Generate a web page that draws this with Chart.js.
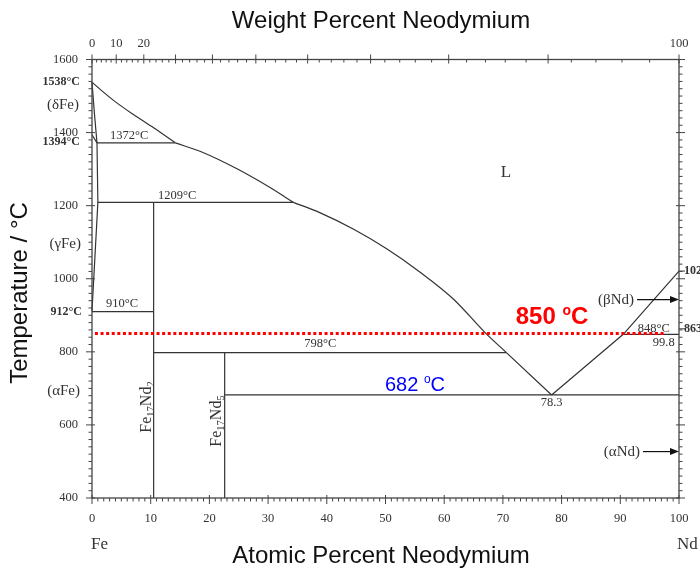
<!DOCTYPE html>
<html>
<head>
<meta charset="utf-8">
<script src="https://cdn.jsdelivr.net/npm/chart.js@4/dist/chart.umd.min.js"></script>
<style>
  html, body { margin: 0; padding: 0; background: #fff; }
  #wrap { width: 700px; height: 569px; }
</style>
</head>
<body>
<div id="wrap"><canvas id="c" width="700" height="569"></canvas></div>
<script>
// Fe–Nd phase diagram: composition in at.% Nd, temperature in °C

// Liquidus on the Fe-rich side, split at the invariant temperatures
const liquidusDelta = [[0, 1538], [2, 1510], [4, 1484], [7, 1450], [10.5, 1413], [14.2, 1372]];
const liquidusGamma = [[14.2, 1372], [19, 1345], [24.7, 1301], [30.4, 1249], [34.3, 1209]];
const liquidus2_17 = [[34.3, 1209], [38.8, 1181], [44.5, 1136], [50.2, 1082], [55.9, 1018], [61.6, 944], [67.0, 852], [70.6, 798]];
const liquidus5_17 = [[70.6, 798], [78.3, 682]];
// Liquidus on the Nd-rich side
const liquidusNd = [[78.3, 682], [90.5, 848], [100, 1021]];

// Fe solid-solution boundaries
const solidusDelta = [[0, 1538], [0.4, 1455], [0.85, 1372]];
const gammaDelta = [[0, 1394], [0.85, 1372]];
const gammaLoop = [[0.85, 1372], [1.0, 1209], [0, 912]];

// Invariant horizontals
const iso1372 = [[0.85, 1372], [14.2, 1372]];
const iso1209 = [[1.0, 1209], [34.3, 1209]];
const iso910 = [[0, 910], [10.5, 910]];
const iso798 = [[10.5, 798], [70.6, 798]];
const iso682 = [[22.6, 682], [100, 682]];
const iso848 = [[90.5, 848], [100, 848]];

// Compounds
const fe17nd2 = [[10.5, 400], [10.5, 1209]];
const fe17nd5 = [[22.6, 400], [22.6, 798]];

// Marked process temperature
const processLine = [[0.5, 850], [97.5, 850]];

// Axis ticks
const atTicks = [0, 10, 20, 30, 40, 50, 60, 70, 80, 90, 100];
const tempTicks = [400, 600, 800, 1000, 1200, 1400, 1600];
const wtLabelled = [0, 10, 20, 100];
const ndTicks = [863, 1021];
const ndTickLabels = ['863', '1021'];

const SERIF = "'Liberation Serif', 'Times New Roman', serif";
const SANS = "'Liberation Sans', Arial, sans-serif";
const INK = '#333';

// weight % Nd -> atomic % Nd
function wtToAt(w) {
  const nd = w / 144.242, fe = (100 - w) / 55.845;
  return 100 * nd / (nd + fe);
}

const pts = arr => arr.map(([x, y]) => ({ x, y }));

function phaseLine(arr, curved) {
  return {
    data: pts(arr),
    borderColor: INK,
    borderWidth: 1.2,
    pointRadius: 0,
    showLine: true,
    fill: false,
    clip: 4,
    cubicInterpolationMode: curved ? 'monotone' : 'default',
    tension: 0
  };
}

const datasets = [
  {
    data: pts(processLine),
    borderColor: '#ff0000',
    borderWidth: 3,
    borderDash: [3, 2.6],
    borderCapStyle: 'butt',
    pointRadius: 0,
    showLine: true,
    clip: 4
  },
  phaseLine(liquidusDelta, true),
  phaseLine(liquidusGamma, true),
  phaseLine(liquidus2_17, true),
  phaseLine(liquidus5_17, false),
  phaseLine(liquidusNd, false),
  phaseLine(solidusDelta, true),
  phaseLine(gammaDelta, false),
  phaseLine(gammaLoop, false),
  phaseLine(iso1372, false),
  phaseLine(iso1209, false),
  phaseLine(iso910, false),
  phaseLine(iso798, false),
  phaseLine(iso682, false),
  phaseLine(iso848, false),
  phaseLine(fe17nd2, false),
  phaseLine(fe17nd5, false)
];

// Labels placed in data coordinates
const fieldLabels = [
  { t: '1372°C', x: 6.35, y: 1392 },
  { t: '1209°C', x: 14.5, y: 1228 },
  { t: '910°C', x: 5.1, y: 931 },
  { t: '798°C', x: 38.9, y: 823 },
  { t: '78.3', x: 78.3, y: 660 },
  { t: '848°C', x: 95.7, y: 862 },
  { t: '99.8', x: 97.4, y: 825 }
];

function line(ctx, x1, y1, x2, y2) {
  ctx.beginPath(); ctx.moveTo(x1, y1); ctx.lineTo(x2, y2); ctx.stroke();
}

function arrow(ctx, x1, x2, y) {
  ctx.beginPath(); ctx.moveTo(x1, y); ctx.lineTo(x2 - 6, y); ctx.stroke();
  ctx.beginPath();
  ctx.moveTo(x2, y); ctx.lineTo(x2 - 9, y - 3.5); ctx.lineTo(x2 - 9, y + 3.5); ctx.closePath();
  ctx.fill();
}

// text with a raised small "o" used as the degree mark
function degLabel(ctx, num, x, y, size, weight, color) {
  ctx.fillStyle = color;
  ctx.textBaseline = 'alphabetic';
  ctx.textAlign = 'left';
  const big = weight + ' ' + size + 'px ' + SANS;
  const small = weight + ' ' + Math.round(size * 0.6) + 'px ' + SANS;
  ctx.font = big;
  const w1 = ctx.measureText(num + ' ').width;
  ctx.font = small;
  const w2 = ctx.measureText('o').width;
  ctx.font = big;
  const w3 = ctx.measureText('C').width;
  let cx = x - (w1 + w2 + w3) / 2;
  ctx.fillText(num + ' ', cx, y);
  ctx.font = small;
  ctx.fillText('o', cx + w1, y - size * 0.38);
  ctx.font = big;
  ctx.fillText('C', cx + w1 + w2, y);
}

// compound name with subscripts, written bottom-to-top
function compound(ctx, x, yCenter, sub2) {
  ctx.save();
  ctx.translate(x, yCenter);
  ctx.rotate(-Math.PI / 2);
  ctx.fillStyle = INK;
  ctx.textBaseline = 'alphabetic';
  ctx.textAlign = 'left';
  const big = '16px ' + SERIF, small = '10.5px ' + SERIF;
  const parts = [['Fe', big, 0], ['17', small, 3], ['Nd', big, 0], [sub2, small, 3]];
  let total = 0;
  parts.forEach(([s, f]) => { ctx.font = f; total += ctx.measureText(s).width; });
  let cx = -total / 2;
  parts.forEach(([s, f, dy]) => { ctx.font = f; ctx.fillText(s, cx, 5 + dy); cx += ctx.measureText(s).width; });
  ctx.restore();
}

const framePlugin = {
  id: 'frame',
  afterDatasetsDraw(chart) {
    const { ctx, chartArea: a, scales: { x, y } } = chart;
    ctx.save();
    ctx.strokeStyle = '#444';
    ctx.lineWidth = 1.3;
    ctx.strokeRect(a.left, a.top, a.right - a.left, a.bottom - a.top);
    ctx.lineWidth = 1;
    // bottom: every 1 at.%
    for (let v = 0; v <= 100; v++) {
      const px = x.getPixelForValue(v), major = v % 10 === 0;
      line(ctx, px, a.bottom - (major ? 3 : 0), px, a.bottom + (major ? 6 : 3.5));
    }
    // top: every 2 wt.%
    for (let w = 0; w <= 100; w += 2) {
      const px = x.getPixelForValue(wtToAt(w)), major = w % 10 === 0;
      line(ctx, px, a.top - (major ? 5 : 0), px, a.top + (major ? 4 : 3));
    }
    // left and right: every 20 °C
    for (let t = 400; t <= 1600; t += 20) {
      const py = y.getPixelForValue(t), major = t % 200 === 0;
      line(ctx, a.left - (major ? 6 : 3.5), py, a.left + (major ? 3 : 0), py);
      line(ctx, a.right - (major ? 3 : 0), py, a.right + (major ? 6 : 3.5), py);
    }
    ndTicks.forEach(t => {
      const py = y.getPixelForValue(t);
      line(ctx, a.right, py, a.right + 6, py);
    });
    ctx.restore();
  },
  afterDraw(chart) {
    const { ctx, chartArea: a, scales: { x, y } } = chart;
    ctx.save();

    // axis titles
    ctx.fillStyle = '#111';
    ctx.textAlign = 'center';
    ctx.textBaseline = 'middle';
    ctx.font = '24px ' + SANS;
    ctx.fillText('Weight Percent Neodymium', 381, 21);
    ctx.fillText('Atomic Percent Neodymium', 381, 556);
    ctx.save();
    ctx.translate(20, 293);
    ctx.rotate(-Math.PI / 2);
    ctx.fillText('Temperature / °C', 0, 0);
    ctx.restore();

    // end members
    ctx.fillStyle = INK;
    ctx.font = '17px ' + SERIF;
    ctx.textAlign = 'left';
    ctx.fillText('Fe', 91, 545);
    ctx.fillText('Nd', 677, 545);

    // Nd transformation temperatures on the right axis
    ctx.font = 'bold 12px ' + SERIF;
    ndTicks.forEach((t, i) => ctx.fillText(ndTickLabels[i], 684, y.getPixelForValue(t)));

    // left margin: melting / transformation points and phases
    ctx.textAlign = 'right';
    ctx.font = 'bold 12px ' + SERIF;
    ctx.fillText('1538°C', 80, 82);
    ctx.fillText('1394°C', 80, 142);
    ctx.fillText('912°C', 82, 312);
    ctx.font = '15px ' + SERIF;
    ctx.fillText('(δFe)', 79, 105);
    ctx.fillText('(γFe)', 81, 244);
    ctx.fillText('(αFe)', 80, 391);

    // field and invariant labels
    ctx.textAlign = 'center';
    ctx.font = '12.5px ' + SERIF;
    fieldLabels.forEach(l => ctx.fillText(l.t, x.getPixelForValue(l.x), y.getPixelForValue(l.y)));
    ctx.font = '17px ' + SERIF;
    ctx.fillText('L', x.getPixelForValue(70.5), y.getPixelForValue(1291));

    // Nd allotropes with arrows to the Nd axis
    ctx.font = '15px ' + SERIF;
    ctx.textAlign = 'right';
    const yBeta = y.getPixelForValue(943), yAlpha = y.getPixelForValue(527);
    ctx.fillText('(βNd)', 634, yBeta);
    ctx.fillText('(αNd)', 640, yAlpha);
    ctx.strokeStyle = '#111'; ctx.fillStyle = '#111'; ctx.lineWidth = 1.2;
    arrow(ctx, 637, a.right, yBeta);
    arrow(ctx, 643, a.right, yAlpha);

    // compounds
    compound(ctx, x.getPixelForValue(10.5) - 8, 407, '2');
    compound(ctx, x.getPixelForValue(22.6) - 9, 421, '5');

    // highlighted temperatures
    degLabel(ctx, '850', 552, 324, 24, 'bold', '#ff0000');
    degLabel(ctx, '682', 415, 391, 20, 'normal', '#0000ff');

    ctx.restore();
  }
};

new Chart(document.getElementById('c'), {
  type: 'scatter',
  data: { datasets },
  options: {
    responsive: false,
    devicePixelRatio: 1,
    animation: false,
    layout: { padding: 0 },
    plugins: { legend: { display: false }, tooltip: { enabled: false } },
    scales: {
      x: {
        type: 'linear', position: 'bottom', min: 0, max: 100,
        afterBuildTicks: s => { s.ticks = atTicks.map(v => ({ value: v })); },
        ticks: { autoSkip: false, maxRotation: 0, padding: 5, color: INK, font: { family: SERIF, size: 12.5 },
                 callback: v => String(v) },
        grid: { display: false }, border: { display: false },
        afterFit: s => { s.height = 71; }
      },
      xTop: {
        type: 'linear', position: 'top', min: 0, max: 100,
        afterBuildTicks: s => { s.ticks = wtLabelled.map(w => ({ value: wtToAt(w) })); },
        ticks: {
          autoSkip: false, maxRotation: 0, padding: 0, color: INK,
          font: { family: SERIF, size: 12.5 },
          callback: (v, i) => String(wtLabelled[i])
        },
        grid: { display: false }, border: { display: false },
        afterFit: s => { s.height = 59.5; }
      },
      y: {
        type: 'linear', position: 'left', min: 400, max: 1600,
        afterBuildTicks: s => { s.ticks = tempTicks.map(v => ({ value: v })); },
        ticks: { autoSkip: false, padding: 6, color: INK, font: { family: SERIF, size: 12.5 },
                 callback: v => String(v) },
        grid: { display: false }, border: { display: false },
        afterFit: s => { s.width = 92; }
      },
      yNd: {
        type: 'linear', position: 'right', min: 400, max: 1600,
        ticks: { display: false },
        grid: { display: false }, border: { display: false },
        afterFit: s => { s.width = 21; }
      }
    }
  },
  plugins: [framePlugin]
});
</script>
</body>
</html>
